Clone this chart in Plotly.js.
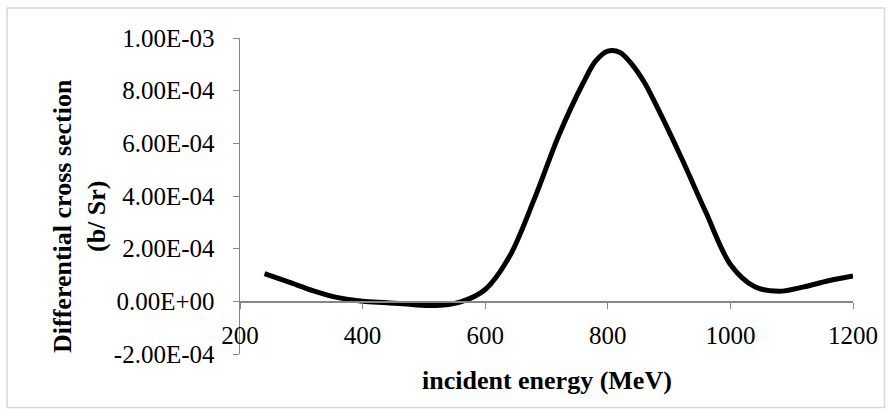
<!DOCTYPE html>
<html>
<head>
<meta charset="utf-8">
<script src="https://cdn.plot.ly/plotly-3.0.1.min.js"></script>
<style>html,body{margin:0;padding:0;background:#fff;}#chart{width:894px;height:416px;}</style>
</head>
<body>
<div id="chart"></div>
<script>
// Data
const energy = [240, 280, 320, 360, 400, 440, 480, 520, 560, 600, 640, 680, 720, 760, 780, 800, 820, 840, 860, 880, 920, 960, 1000, 1040, 1080, 1120, 1160, 1200];
const crossSection = [1.05e-4, 0.73e-4, 0.40e-4, 0.14e-4, 0.00e-4, -0.05e-4, -0.12e-4, -0.16e-4, -0.02e-4, 0.45e-4, 1.72e-4, 3.88e-4, 6.30e-4, 8.30e-4, 9.12e-4, 9.50e-4, 9.45e-4, 8.98e-4, 8.30e-4, 7.40e-4, 5.45e-4, 3.38e-4, 1.40e-4, 0.55e-4, 0.38e-4, 0.55e-4, 0.78e-4, 0.96e-4];
const xTicks = [200, 400, 600, 800, 1000, 1200];
const yTicks = [-2e-4, 0, 2e-4, 4e-4, 6e-4, 8e-4, 1e-3];
const yTickText = ["-2.00E-04", "0.00E+00", "2.00E-04", "4.00E-04", "6.00E-04", "8.00E-04", "1.00E-03"];
const xTitle = "incident energy (MeV)";
const yTitle = "Differential cross section<br>(b/ Sr)";

const yMin = -2e-4, yMax = 1e-3;
const serif = 'Liberation Serif';
const axisGray = '#868686';

const trace = {
  x: energy,
  y: crossSection,
  type: 'scatter',
  mode: 'lines',
  line: {color: '#000000', width: 5, shape: 'spline', smoothing: 0.9},
  hoverinfo: 'skip',
  showlegend: false
};

const layout = {
  width: 894,
  height: 416,
  margin: {l: 240, r: 41, t: 38, b: 62, pad: 0},
  paper_bgcolor: '#ffffff',
  plot_bgcolor: '#ffffff',
  font: {family: serif, size: 25, color: '#000000'},
  showlegend: false,
  xaxis: {
    range: [200, 1200],
    anchor: 'free',
    position: (0 - yMin) / (yMax - yMin),
    tickmode: 'array',
    tickvals: xTicks,
    ticktext: xTicks.map(String),
    ticks: 'outside',
    ticklen: 6,
    tickwidth: 1,
    tickcolor: axisGray,
    ticklabelstandoff: 5,
    showline: true,
    linecolor: axisGray,
    linewidth: 1.5,
    showgrid: false,
    zeroline: false,
    tickfont: {family: serif, size: 25, color: '#000000'},
    fixedrange: true
  },
  yaxis: {
    range: [yMin, yMax],
    tickmode: 'array',
    tickvals: yTicks,
    ticktext: yTickText,
    ticks: 'outside',
    ticklen: 6,
    tickwidth: 1,
    tickcolor: axisGray,
    ticklabelstandoff: 13,
    showline: true,
    linecolor: axisGray,
    linewidth: 1.5,
    showgrid: false,
    zeroline: false,
    tickfont: {family: serif, size: 25, color: '#000000'},
    fixedrange: true
  },
  annotations: [
    {
      text: '<b>' + xTitle + '</b>',
      xref: 'paper', yref: 'paper',
      x: 0.5, y: -0.085,
      xanchor: 'center', yanchor: 'middle',
      showarrow: false,
      font: {family: serif, size: 26, color: '#000000'}
    },
    {
      text: '<b>' + yTitle + '</b>',
      xref: 'paper', yref: 'paper',
      x: -0.2627, y: 0.4367,
      xanchor: 'center', yanchor: 'middle',
      textangle: -90,
      showarrow: false,
      font: {family: serif, size: 26, color: '#000000'}
    }
  ],
  shapes: [
    {
      type: 'rect', xref: 'paper', yref: 'paper',
      x0: -0.380, x1: 1.0514, y0: -0.1693, y1: 1.0949,
      line: {color: '#d9d9d9', width: 1.5},
      fillcolor: 'rgba(0,0,0,0)',
      layer: 'below'
    }
  ]
};

Plotly.newPlot('chart', [trace], layout, {displayModeBar: false, staticPlot: true});
</script>
</body>
</html>
